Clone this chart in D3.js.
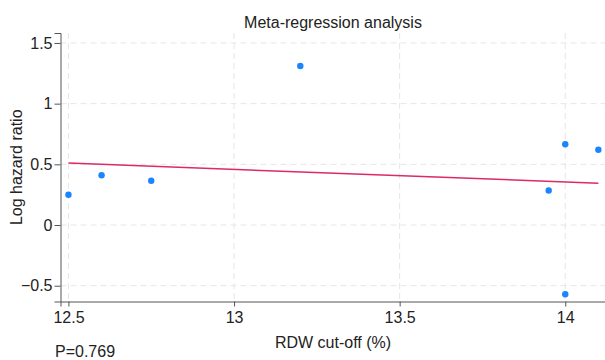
<!DOCTYPE html>
<html>
<head>
<meta charset="utf-8">
<script src="https://cdn.jsdelivr.net/npm/d3@7"></script>
<style>
  body { margin: 0; background: #fff; }
  svg text { font-family: "Liberation Sans", Arial, sans-serif; fill: #222; }
</style>
</head>
<body>
<div id="chart"></div>
<script>
// study points
let cutoffs = [12.5, 12.6, 12.75, 13.2, 13.95, 14.0, 14.1, 14.0];
let logHR = [0.25, 0.41, 0.365, 1.31, 0.285, 0.665, 0.62, -0.57];
// fitted line end points
let fitX = [12.5, 14.1];
let fitY = [0.51, 0.345];
let xTicks = [12.5, 13, 13.5, 14];
let yTicks = [-0.5, 0, 0.5, 1, 1.5];
let yTickLabels = ['\u22120.5', '0', '0.5', '1', '1.5'];

let width = 605, height = 360;
let plotLeft = 60.5, plotRight = 605, plotTop = 33, plotBottom = 301.5;

let svg = d3.select('#chart').append('svg')
	.attr('width', width)
	.attr('height', height);

let x = d3.scaleLinear().domain([12.476, 14.12]).range([plotLeft, plotRight]);
let y = d3.scaleLinear().domain([-0.63, 1.582]).range([plotBottom, plotTop]);

// grid
svg.append('g').selectAll('line').data(xTicks).enter().append('line')
	.attr('x1', d => x(d)).attr('x2', d => x(d))
	.attr('y1', plotTop).attr('y2', plotBottom)
	.attr('stroke', '#e6e6e6').attr('stroke-dasharray', '6,4');
svg.append('g').selectAll('line').data(yTicks).enter().append('line')
	.attr('x1', plotLeft).attr('x2', plotRight)
	.attr('y1', d => y(d)).attr('y2', d => y(d))
	.attr('stroke', '#e6e6e6').attr('stroke-dasharray', '6,4');

// axes
let xAxis = svg.append('g')
	.attr('transform', 'translate(0,' + plotBottom + ')')
	.call(d3.axisBottom(x).tickValues(xTicks).tickSize(5).tickPadding(5).tickFormat(d3.format('')));
let yAxis = svg.append('g')
	.attr('transform', 'translate(' + plotLeft + ',0)')
	.call(d3.axisLeft(y).tickValues(yTicks).tickSize(6).tickPadding(2)
		.tickFormat((d, i) => yTickLabels[i]));

[xAxis, yAxis].forEach(a => {
	a.select('.domain').attr('stroke', '#555');
	a.selectAll('.tick line').attr('stroke', '#555');
	a.selectAll('.tick text').attr('font-size', 16).attr('fill', '#222');
});

// regression line
svg.append('line')
	.attr('x1', x(fitX[0])).attr('y1', y(fitY[0]))
	.attr('x2', x(fitX[1])).attr('y2', y(fitY[1]))
	.attr('stroke', '#dc2a64').attr('stroke-width', 1.5);

// points
svg.append('g').selectAll('circle').data(cutoffs).enter().append('circle')
	.attr('cx', d => x(d))
	.attr('cy', (d, i) => y(logHR[i]))
	.attr('r', 3.2)
	.attr('fill', '#1a85ff');

// titles
svg.append('text')
	.attr('x', 333).attr('y', 28)
	.attr('text-anchor', 'middle').attr('font-size', 16)
	.text('Meta-regression analysis');
svg.append('text')
	.attr('x', 333).attr('y', 348)
	.attr('text-anchor', 'middle').attr('font-size', 16)
	.text('RDW cut-off (%)');
svg.append('text')
	.attr('transform', 'translate(22,' + (plotTop + plotBottom) / 2 + ') rotate(-90)')
	.attr('text-anchor', 'middle').attr('font-size', 16)
	.text('Log hazard ratio');
svg.append('text')
	.attr('x', 55).attr('y', 357)
	.attr('font-size', 16)
	.text('P=0.769');
</script>
</body>
</html>
